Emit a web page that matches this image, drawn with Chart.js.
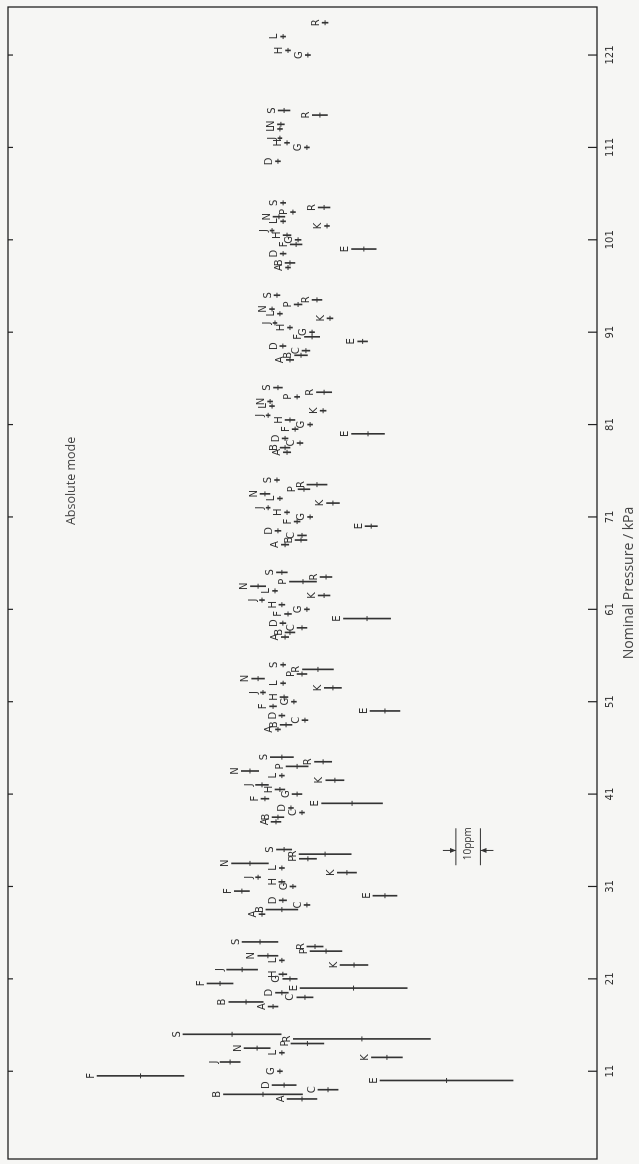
<!DOCTYPE html>
<html>
<head>
<meta charset="utf-8">
<script src="https://cdn.jsdelivr.net/npm/chart.js@4.4.0/dist/chart.umd.min.js"></script>
<style>
  html, body { margin: 0; padding: 0; background: #f6f6f4; overflow: hidden; }
  #wrap { position: relative; width: 639px; height: 1164px; }
  /* chart is drawn landscape and turned a quarter turn, like the printed page */
  #c { position: absolute; left: 0; top: 0; transform-origin: 0 0; transform: translate(0, 1164px) rotate(-90deg); }
</style>
</head>
<body>
<div id="wrap"><canvas id="c" width="1164" height="639"></canvas></div>
<script>
// nominal pressures (kPa) and the tick labels on the pressure axis
const nominal = [11, 21, 31, 41, 51, 61, 71, 81, 91, 101, 111, 121];
const labs = ['A', 'B', 'C', 'D', 'E', 'F', 'G', 'H', 'J', 'K', 'L', 'N', 'P', 'R', 'S'];
// each lab is drawn slightly shifted along the pressure axis (kPa)
const labOffset = [-3, -2.5, -2, -1.5, -1, -0.5, 0, 0.5, 1, 1.5, 2, 2.5, 3, 3.5, 4];

// deviation (ppm) and half width of the bar (ppm), one value per nominal pressure
const devA = [0.2, 12, 16.5, 10.8, 10, 7.1, 7.1, 6.3, 5.1, 5.9, null, null];
const errA = [6.1, 2, 1.2, 2, 1, 1.5, 1.5, 1.5, 1.5, 1, null, null];
const devB = [16.1, 23, 8.4, 10, 6.7, 5.1, 0.6, 7.1, 0.6, 5.1, null, null];
const errB = [16.1, 7, 6.5, 2.4, 2.4, 2, 2.4, 2, 2.6, 2, null, null];
const devC = [-10.4, -1, -1.8, 0.2, -1, 0.2, 0.2, 1, -1.4, null, null, null];
const errC = [4.1, 3.3, 1.2, 1, 1.2, 2, 1.8, 1.2, 1.6, null, null, null];
const devD = [7.5, 8.4, 8, 4.7, 8.4, 8, 10, 7.1, 8, 7.9, 10, null];
const errD = [4.9, 2.6, 1.5, 1, 1.2, 1.2, 1.2, 1.2, 1.2, 1.2, 1, null];
const devE = [-58.7, -20.8, -33.6, -20.2, -33.6, -26.3, -28, -26.7, -24.5, -25, null, null];
const errE = [27.1, 21.8, 4.9, 12.4, 6.1, 9.6, 2.5, 6.7, 2, 5, null, null];
const devF = [66, 33.6, 24.7, 15.3, 12, 5.9, 2.2, 3, -3.9, 2.6, null, null];
const errF = [17.7, 5.3, 3.1, 1.6, 1.4, 1.4, 1.2, 1.2, 3.1, 2.4, null, null];
const devG = [9.2, 5.1, 3.9, 2.2, 3.5, -1.8, -3.1, -3.1, -3.9, 1.8, -1.8, -2.2];
const errG = [1, 2.9, 1.2, 2, 1, 1, 1, 1, 1, 1.2, 1, 1];
const devH = [null, 8, 8.4, 9.2, 7.5, 8.4, 6.3, 5.1, 5.1, 6.3, 6.3, 5.9];
const errH = [null, 1.6, 1.2, 2, 1.6, 1.2, 1, 2, 1, 1.6, 1, 1];
const devJ = [29.5, 24.6, 18.1, 16.5, 16.1, 16.5, 14, 14, 11.2, 12.4, 9.2, null];
const errJ = [4.1, 6.3, 1, 2.6, 1, 1, 0.8, 0.8, 0.8, 0.8, 0.8, null];
const devK = [-34.4, -21, -18.1, -13.2, -12.4, -8.8, -12.4, -8.4, -11.2, -10, null, null];
const errK = [6.3, 5.7, 3.9, 3.7, 3.5, 2.4, 2.6, 1.2, 1.2, 1, null, null];
const devL = [8.4, 8.4, 8.4, 8.4, 7.9, 11.2, 9.2, 12.4, 9.2, 7.9, 9.2, 7.9];
const errL = [1, 1, 1, 1, 1, 1, 1, 1, 1, 1, 1, 1];
const devN = [18.5, 14.1, 21.4, 21.4, 18.1, 18.1, 15.3, 13.2, 12.4, 9.6, 8.8, null];
const errN = [5.3, 4.1, 7.5, 3.5, 2.6, 3.1, 2, 1, 1, 2.4, 1.4, null];
const devP = [-2, -9.6, -2.2, 2.2, 0.2, -0.2, -0.6, 2.2, 1.8, 3.9, null, null];
const errP = [6.7, 6.5, 3.5, 4.5, 2, 5.5, 2.4, 1, 1.6, 1, null, null];
const devR = [-24.2, -5.1, -9.2, -8.4, -6.3, -9.6, -5.9, -8.8, -5.9, -8.8, -7.1, -9.2];
const errR = [27.9, 3.3, 10.6, 3.5, 6.3, 2.4, 4.1, 3.1, 2, 2.4, 3.1, 1.2];
const devS = [28.7, 17.3, 7.5, 8.4, 7.9, 8.4, 10.4, 10, 10.4, 7.9, 7.5, null];
const errS = [20, 7.3, 3.1, 4.7, 1, 2.2, 1, 1.8, 1.2, 1, 2.4, null];

const deviation = [devA, devB, devC, devD, devE, devF, devG, devH, devJ, devK, devL, devN, devP, devR, devS];
const halfWidth = [errA, errB, errC, errD, errE, errF, errG, errH, errJ, errK, errL, errN, errP, errR, errS];

// annotations in data units: [pressure kPa, deviation ppm]
const modeText = 'Absolute mode';
const modeAt = [74.9, 94];
const scaleBarAt = 34.9;      // pressure of the 10 ppm bar
const scaleBarPpm = [-62.5, -72.5];

const ink = '#333';
const mono = '"DejaVu Sans", sans-serif';
const sans = '"Open Sans", sans-serif';

const barSets = labs.map((lab, j) => ({
  type: 'bar',
  label: lab,
  data: nominal.map((p, i) => deviation[j][i] == null ? null :
    { x: p + labOffset[j], y: [deviation[j][i] - halfWidth[j][i], deviation[j][i] + halfWidth[j][i]] }
  ).filter(d => d),
  backgroundColor: ink,
  borderWidth: 0,
  barThickness: 1,
  grouped: false
}));

const centres = {
  type: 'scatter',
  label: 'centre',
  data: labs.flatMap((lab, j) => nominal.map((p, i) => deviation[j][i] == null ? null :
    { x: p + labOffset[j], y: deviation[j][i] }).filter(d => d)),
  pointStyle: 'line',
  pointRadius: 2.5,
  borderColor: ink,
  borderWidth: 1
};

// lab letters just beyond the upper end of every bar
const letters = {
  id: 'letters',
  afterDatasetsDraw(chart) {
    const { ctx, scales: { x, y } } = chart;
    ctx.save();
    ctx.fillStyle = ink;
    ctx.font = '10px ' + mono;
    ctx.textAlign = 'center';
    ctx.textBaseline = 'bottom';
    labs.forEach((lab, j) => {
      nominal.forEach((p, i) => {
        const d = deviation[j][i];
        if (d == null) return;
        ctx.fillText(lab, x.getPixelForValue(p + labOffset[j]), y.getPixelForValue(d + halfWidth[j][i]) - 1);
      });
    });
    ctx.restore();
  }
};

// box round the plot, inward ticks, mode caption and the 10 ppm bar
const frame = {
  id: 'frame',
  afterDraw(chart) {
    const { ctx, chartArea: a, scales: { x, y } } = chart;
    ctx.save();
    ctx.strokeStyle = '#222';
    ctx.lineWidth = 1.3;
    ctx.strokeRect(a.left, a.top, a.right - a.left, a.bottom - a.top);
    ctx.lineWidth = 1.2;
    ctx.beginPath();
    nominal.forEach(p => {
      const u = x.getPixelForValue(p);
      ctx.moveTo(u, a.bottom); ctx.lineTo(u, a.bottom - 9);
      ctx.moveTo(u, a.top); ctx.lineTo(u, a.top + 5);
    });
    ctx.stroke();

    ctx.fillStyle = '#444';
    ctx.font = '12.5px ' + sans;
    ctx.textAlign = 'center';
    ctx.textBaseline = 'middle';
    ctx.fillText(modeText, x.getPixelForValue(modeAt[0]), y.getPixelForValue(modeAt[1]));

    const uc = x.getPixelForValue(scaleBarAt);
    const v1 = y.getPixelForValue(scaleBarPpm[0]);
    const v2 = y.getPixelForValue(scaleBarPpm[1]);
    const u0 = x.getPixelForValue(scaleBarAt - 1.6);
    const u1 = x.getPixelForValue(scaleBarAt + 2.4);
    ctx.strokeStyle = ink;
    ctx.fillStyle = ink;
    ctx.lineWidth = 1;
    ctx.beginPath();
    ctx.moveTo(u0, v1); ctx.lineTo(u1, v1);
    ctx.moveTo(u0, v2); ctx.lineTo(u1, v2);
    ctx.moveTo(uc, v1 - 13); ctx.lineTo(uc, v1);
    ctx.moveTo(uc, v2 + 13); ctx.lineTo(uc, v2);
    ctx.stroke();
    ctx.beginPath();
    ctx.moveTo(uc, v1); ctx.lineTo(uc - 2.5, v1 - 6); ctx.lineTo(uc + 2.5, v1 - 6); ctx.closePath();
    ctx.moveTo(uc, v2); ctx.lineTo(uc - 2.5, v2 + 6); ctx.lineTo(uc + 2.5, v2 + 6); ctx.closePath();
    ctx.fill();
    ctx.font = '10px ' + sans;
    ctx.fillText('10ppm', (u0 + u1) / 2 + 3, (v1 + v2) / 2);
    ctx.restore();
  }
};

new Chart(document.getElementById('c'), {
  type: 'scatter',
  data: { datasets: [centres, ...barSets] },
  options: {
    responsive: false,
    devicePixelRatio: 1,
    animation: false,
    layout: { padding: { left: 2, right: 7, top: 8, bottom: 0 } },
    plugins: { legend: { display: false }, tooltip: { enabled: false } },
    scales: {
      x: {
        type: 'linear',
        min: 1.5,
        max: 126.2,
        offset: false,
        afterBuildTicks: s => { s.ticks = nominal.map(v => ({ value: v })); },
        afterFit: s => { s.height = 42; },
        grid: { display: false, drawTicks: false, tickLength: 0, offset: false },
        border: { display: false },
        ticks: { padding: 7, color: ink, font: { family: mono, size: 10 }, maxRotation: 0, autoSkip: false },
        title: { display: true, text: 'Nominal Pressure / kPa', color: '#444', font: { family: sans, size: 14 }, padding: { top: 0, bottom: 2 } }
      },
      y: { type: 'linear', min: -120, max: 120, display: false }
    }
  },
  plugins: [letters, frame]
});
</script>
</body>
</html>
